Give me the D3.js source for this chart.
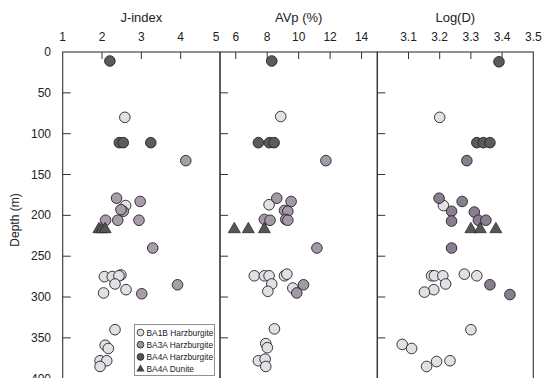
<!DOCTYPE html>
<html><head><meta charset="utf-8">
<script src="https://cdn.jsdelivr.net/npm/d3@7"></script>
<style>body{margin:0;background:#fff}svg{display:block}text{font-family:"Liberation Sans",Arial,sans-serif;fill:#222}</style>
</head><body><svg id="c" width="543" height="378"></svg>
<script>
// ---- data: [depth (m), value] ----
const depthTicks = [0,50,100,150,200,250,300,350,400];
const jTicks = [1,2,3,4,5];
const avpTicks = [6,8,10,12,14];
const logdTicks = [3.1,3.2,3.3,3.4,3.5];
const legendLabels = ["BA1B Harzburgite","BA3A Harzburgite","BA4A Harzburgite","BA4A Dunite"];

const jBA1B = [[80,2.58],[188,2.60],[275,2.06],[275,2.26],[273,2.48],[274,2.43],[284,2.33],[295,2.04],[291,2.61],[340,2.33],[359,2.08],[363,2.16],[378,1.95],[378,2.12],[385,1.95]];
const jBA3A = [[133,4.13],[179,2.37],[183,2.97],[195,2.54],[193,2.48],[206,2.09],[206,2.40],[206,2.94],[240,3.29],[296,3.01],[285,3.92]];
const jBA4A = [[11,2.20],[111,2.44],[111,2.54],[111,3.24]];
const jDunite = [[217,1.92],[217,1.99],[217,2.08]];

const avpBA1B = [[79,8.86],[187,8.12],[274,7.18],[274,7.82],[274,8.12],[274,9.10],[272,9.25],[284,8.29],[293,8.04],[289,9.63],[339,8.46],[357,7.91],[362,8.01],[378,7.44],[376,7.87],[385,7.91]];
const avpBA3A = [[133,11.73],[179,8.61],[183,9.52],[194,9.10],[195,9.31],[205,7.82],[206,8.18],[205,9.18],[206,9.31],[240,11.16],[285,10.31],[295,9.88]];
const avpBA4A = [[11,8.29],[111,7.44],[111,8.14],[111,8.44]];
const avpDunite = [[217,5.91],[217,6.80],[217,7.82]];

const logdBA1B = [[80,3.200],[188,3.212],[274,3.174],[274,3.183],[274,3.210],[272,3.279],[274,3.319],[284,3.219],[291,3.181],[294,3.151],[340,3.300],[358,3.080],[363,3.110],[378,3.233],[379,3.190],[385,3.158]];
const logdBA3A = [[133,3.287],[179,3.198],[183,3.272],[195,3.238],[196,3.311],[207,3.238],[206,3.324],[206,3.348],[240,3.238],[285,3.361],[297,3.425]];
const logdBA4A = [[12,3.39],[111,3.319],[111,3.340],[111,3.361]];
const logdDunite = [[217,3.30],[217,3.33],[217,3.38]];

// ---- layout ----
const svg = d3.select("#c");
const plotTop = 52, plotBottom = 378.7;
const y = d3.scaleLinear().domain([0,400]).range([plotTop,plotBottom]);

const panels = [
  {title:"J-index", domain:[1,5], range:[62.7,220], ticks:jTicks, fmt:d=>d,
   sets:[jBA1B,jBA3A,jBA4A], dun:jDunite, c3:"#a89cab"},
  {title:"AVp (%)", domain:[5,15], range:[220,377.3], ticks:avpTicks, fmt:d=>d,
   sets:[avpBA1B,avpBA3A,avpBA4A], dun:avpDunite, c3:"#a398a7"},
  {title:"Log(D)", domain:[3,3.5], range:[377.3,533.3], ticks:logdTicks, fmt:d3.format(".1f"),
   sets:[logdBA1B,logdBA3A,logdBA4A], dun:logdDunite, c3:"#897e8f"}
];
const fills = ["#e2e0e5", null, "#5b5b5b"];

panels.forEach((p,i)=>{
  const x = d3.scaleLinear().domain(p.domain).range(p.range);
  const g = svg.append("g");
  g.append("text").attr("x",(p.range[0]+p.range[1])/2).attr("y",22)
    .attr("text-anchor","middle").attr("font-size",13).text(p.title);
  p.ticks.forEach(t=>{
    let tx = x(t);
    if(i===0 && t===5) tx -= 4;
    g.append("text").attr("x",tx).attr("y",41).attr("text-anchor","middle")
      .attr("font-size",12).text(p.fmt(t));
  });
  p.ticks.forEach(t=>{
    if(t<=p.domain[0]||t>=p.domain[1]) return;
    g.append("line").attr("x1",x(t)).attr("x2",x(t)).attr("y1",plotTop).attr("y2",plotTop+7)
      .attr("stroke","#333").attr("stroke-width",1);
  });
  depthTicks.forEach(d=>{
    if(d===0) return;
    g.append("line").attr("x1",p.range[0]).attr("x2",p.range[0]+8).attr("y1",y(d)).attr("y2",y(d))
      .attr("stroke","#333").attr("stroke-width",1);
  });
  g.append("rect").attr("x",p.range[0]).attr("y",plotTop).attr("width",p.range[1]-p.range[0])
    .attr("height",plotBottom-plotTop).attr("fill","none").attr("stroke","#333").attr("stroke-width",1.1);
  const cols = [fills[0], p.c3, fills[2]];
  p.sets.forEach((s,k)=>{
    g.selectAll(null).data(s).enter().append("circle")
      .attr("cx",d=>x(d[1])).attr("cy",d=>y(d[0])).attr("r",5.3)
      .attr("fill",cols[k]).attr("stroke","#222").attr("stroke-width",0.9);
  });
  g.selectAll(null).data(p.dun).enter().append("path")
    .attr("d",d3.symbol().type(d3.symbolTriangle).size(62))
    .attr("transform",d=>`translate(${x(d[1])},${y(d[0])})`)
    .attr("fill","#565656").attr("stroke","#222").attr("stroke-width",0.7);
});

depthTicks.forEach(d=>{
  svg.append("text").attr("x",51).attr("y",y(d)+4).attr("text-anchor","end")
    .attr("font-size",12).text(d);
});
svg.append("text").attr("transform","translate(19,220) rotate(-90)")
  .attr("text-anchor","middle").attr("font-size",12).text("Depth (m)");

const lg = svg.append("g");
lg.append("rect").attr("x",134.5).attr("y",324.5).attr("width",80).attr("height",51)
  .attr("fill","#fff").attr("stroke","#777").attr("stroke-width",0.8);
const lcols = ["#dedcdf","#9d92a0","#555555"];
legendLabels.forEach((l,k)=>{
  const ly = 332.5 + k*12.2;
  if(k<3){
    lg.append("circle").attr("cx",140.5).attr("cy",ly).attr("r",3.4)
      .attr("fill",lcols[k]).attr("stroke","#222").attr("stroke-width",0.8);
  } else {
    lg.append("path").attr("d",d3.symbol().type(d3.symbolTriangle).size(30))
      .attr("transform",`translate(140.5,${ly})`).attr("fill","#444");
  }
  lg.append("text").attr("x",146.5).attr("y",ly+3.2).attr("font-size",8.4).text(l);
});
</script></body></html>
